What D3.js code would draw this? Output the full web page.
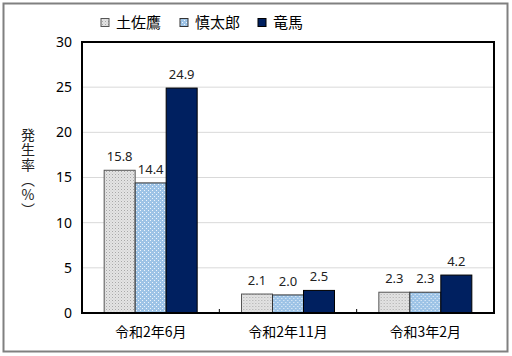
<!DOCTYPE html>
<html><head><meta charset="utf-8">
<script src="https://cdn.jsdelivr.net/npm/d3@7"></script>
<style>body{margin:0;background:#fff}svg{display:block;font-family:"Noto Sans CJK JP","DejaVu Sans",sans-serif}</style>
</head><body>
<script>
const categories = ["令和2年6月", "令和2年11月", "令和3年2月"];
const seriesNames = ["土佐鷹", "慎太郎", "竜馬"];
const tosataka = [15.8, 2.1, 2.3];
const shintaro = [14.4, 2.0, 2.3];
const ryoma = [24.9, 2.5, 4.2];
const yTicks = [0, 5, 10, 15, 20, 25, 30];
const yLabel = "発生率（%）";

const seriesValues = [tosataka, shintaro, ryoma];
const W = 512, H = 356;
const m = {l: 82, r: 18, t: 42, b: 43};
const numFont = "\"Noto Sans\",\"DejaVu Sans\",sans-serif";
const svg = d3.select("body").append("svg").attr("width", W).attr("height", H);
const defs = svg.append("defs");
const p1 = defs.append("pattern").attr("id","p1").attr("width",3).attr("height",3).attr("patternUnits","userSpaceOnUse");
p1.append("rect").attr("width",3).attr("height",3).attr("fill","#e4e4e4");
p1.append("rect").attr("width",1).attr("height",1).attr("fill","#a8a8a8");
p1.append("rect").attr("x",1.5).attr("y",1.5).attr("width",1).attr("height",1).attr("fill","#c4c4c4");
const p2 = defs.append("pattern").attr("id","p2").attr("width",4).attr("height",4).attr("patternUnits","userSpaceOnUse");
p2.append("rect").attr("width",4).attr("height",4).attr("fill","#9dc3e6");
p2.append("rect").attr("width",1).attr("height",1).attr("fill","#eef5fc");
p2.append("rect").attr("x",2).attr("y",2).attr("width",1).attr("height",1).attr("fill","#eef5fc");
const fills = ["url(#p1)", "url(#p2)", "#002060"];
const strokes = ["#555", "#333", "#000"];

// outer frame
svg.append("rect").attr("x",3.5).attr("y",3.5).attr("width",504).attr("height",348)
  .attr("fill","none").attr("stroke","#808080").attr("stroke-width",2);

const x0 = d3.scaleBand().domain(categories).range([m.l, W - m.r]).paddingInner(0).paddingOuter(0);
const x1 = d3.scaleBand().domain(d3.range(3)).range([0, x0.bandwidth()]).paddingInner(0).paddingOuter(0.715);
const y = d3.scaleLinear().domain([0, 30]).range([H - m.b, m.t]);

// gridlines
svg.append("g").selectAll("line").data(yTicks.filter(d => d > 0 && d < 30)).join("line")
  .attr("x1", m.l).attr("x2", W - m.r).attr("y1", d => y(d)).attr("y2", d => y(d))
  .attr("stroke","#d9d9d9").attr("stroke-width",1);

// y axis
const yAxis = d3.axisLeft(y).tickValues(yTicks).tickSize(0).tickPadding(10);
const gy = svg.append("g").attr("transform", `translate(${m.l},0)`).call(yAxis);
gy.select(".domain").remove();
gy.selectAll("text").attr("font-size", 14).attr("fill", "#000").attr("font-family", numFont);

// bars
const groups = svg.append("g").selectAll("g").data(categories).join("g")
  .attr("transform", d => `translate(${x0(d)},0)`);
groups.each(function(c, ci) {
  const g = d3.select(this);
  seriesValues.forEach((vals, si) => {
    const v = vals[ci];
    g.append("rect").attr("x", x1(si)).attr("width", x1.bandwidth())
      .attr("y", y(v)).attr("height", y(0) - y(v))
      .attr("fill", fills[si]).attr("stroke", strokes[si]).attr("stroke-width", 1);
    g.append("text").attr("x", x1(si) + x1.bandwidth()/2).attr("y", y(v) - 9)
      .attr("text-anchor","middle").attr("font-size",13).attr("fill","#222")
      .attr("font-family", numFont)
      .text(v.toFixed(1));
  });
});

// x axis
const xAxis = d3.axisBottom(x0).tickSize(0).tickPadding(14);
const gx = svg.append("g").attr("transform", `translate(0,${H - m.b})`).call(xAxis);
gx.select(".domain").remove();
gx.selectAll("text").attr("font-size", 14).attr("fill","#000").attr("font-family","\"Noto Sans CJK JP\",sans-serif");
// boundary ticks
svg.append("g").selectAll("line").data(categories.slice(1)).join("line")
  .attr("x1", d => x0(d)).attr("x2", d => x0(d)).attr("y1", y(0)).attr("y2", y(0) - 4)
  .attr("stroke","#000").attr("stroke-width",1);

// plot border
svg.append("rect").attr("x", m.l).attr("y", m.t).attr("width", W - m.l - m.r).attr("height", H - m.t - m.b)
  .attr("fill","none").attr("stroke","#000").attr("stroke-width",2);

// y label (vertical)
svg.append("text").attr("transform", "translate(28,173)")
  .attr("font-size", 14).attr("fill","#222")
  .style("writing-mode","vertical-rl").style("text-orientation","upright")
  .style("letter-spacing","1px")
  .attr("text-anchor","middle").attr("x", 0).attr("y", 0)
  .text(yLabel);

// legend
const leg = svg.append("g");
const legX = [101, 180, 258];
seriesNames.forEach((n, i) => {
  leg.append("rect").attr("x", legX[i]).attr("y", 18.5).attr("width", 8).attr("height", 8)
    .attr("fill", fills[i]).attr("stroke", strokes[i]).attr("stroke-width",1);
  leg.append("text").attr("x", legX[i] + 15).attr("y", 28).attr("font-size", 15).attr("fill","#000")
    .text(n);
});
</script>
</body></html>
